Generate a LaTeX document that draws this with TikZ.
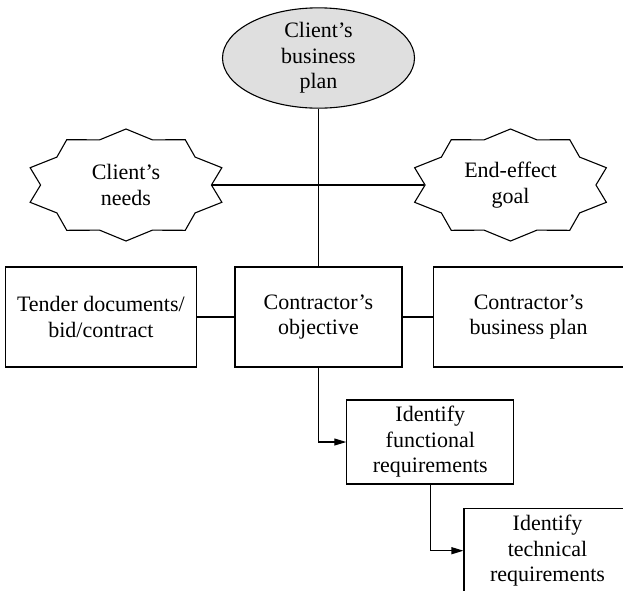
\documentclass[tikz,border=0pt]{standalone}
\usepackage{fontspec}
\setmainfont{Liberation Serif}
\usetikzlibrary{arrows.meta,positioning,shapes.geometric}

\begin{document}
\begin{tikzpicture}[x=1pt,y=-1pt,line width=1.1pt,>={Triangle[length=12pt,width=7pt]}]
	  \tikzstyle{every node}=[align=center,inner sep=0pt,font=\fontsize{22}{25.5}\selectfont]
	  \tikzstyle{plan}=[draw,ellipse,fill=gray!25,minimum width=192pt,minimum height=99pt]
	  \tikzstyle{burst}=[draw,star,star points=10,star point ratio=1.18,minimum size=112pt,xscale=1.8]
	  \tikzstyle{box}=[draw,rectangle,minimum height=100pt]
	  \tikzstyle{reqbox}=[draw,rectangle,minimum width=167pt,minimum height=84pt]

	  \useasboundingbox (0,0) rectangle (623,590);

	  \node[plan] (cplan) at (318.5,58) {Client’s\\business\\plan};
	  \node[burst] (needsb) at (126,185) {};
	  \node (needs) at (needsb) {Client’s\\needs};
	  \node[burst] (goalb) at (510.5,185) {};
	  \node (goal) at (goalb) {End-effect\\goal};

	  \node[box,minimum width=167pt] (obj) at (318.5,317) {Contractor’s\\objective};
	  \node[box,minimum width=191pt,left=37.5pt of obj] (tender) {Tender documents/\\bid/contract};
	  \node[box,minimum width=191pt,right=30pt of obj] (cbplan) {Contractor’s\\business plan};

	  \node[reqbox] (func) at (430.3,442) {Identify\\functional\\requirements};
	  \node[reqbox] (tech) at (547.5,550.7) {Identify\\technical\\requirements};

	  \draw (cplan) -- (obj);
	  \draw (needsb.east) -- (goalb.west);
	  \draw (tender) -- (obj);
	  \draw (obj) -- (cbplan);
	  \draw[->] (obj.south) |- (func.west);
	  \draw[->] (func.south) |- (tech.west);
	\end{tikzpicture}
\end{document}
